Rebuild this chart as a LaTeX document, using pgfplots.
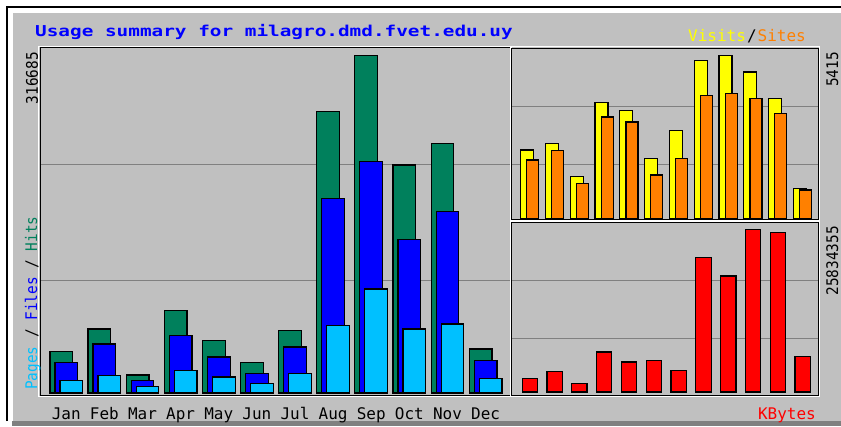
\documentclass[border=0pt]{standalone}
\usepackage{fontspec}
\setmainfont{DejaVu Sans Mono}
\usepackage{pgfplots}
\pgfplotsset{compat=1.18}
\definecolor{bg}{HTML}{C0C0C0}
\definecolor{hits}{HTML}{00805C}
\definecolor{files}{HTML}{0000FF}
\definecolor{pages}{HTML}{00C0FF}
\definecolor{visits}{HTML}{FFFF00}
\definecolor{sites}{HTML}{FF8000}
\definecolor{kbytes}{HTML}{FF0000}
\definecolor{gridc}{HTML}{808080}
\newcommand\sm{\fontsize{16}{18}\selectfont}
\pgfplotsset{webal/.style={scale only axis, anchor=south west,
  axis background/.style={fill=bg},
  axis line style={black, line width=1pt},
  major tick length=0pt,
  ymajorgrids, grid style={gridc, line width=1pt},
  scaled y ticks=false, scaled x ticks=false,
  yticklabels={}, xtick={0,...,11}, xticklabels={},
  clip=false,
  every axis plot/.append style={ybar, draw=black, line width=1.2pt}}}
\begin{document}
\begin{tikzpicture}
\useasboundingbox (0pt,0pt) rectangle (841pt,426pt);
\fill[white] (0pt,0pt) rectangle (841pt,426pt);
\fill[bg] (13pt,5pt) rectangle (841pt,413pt);
\fill[gridc] (12pt,0pt) rectangle (841pt,5pt);
\draw[black, line width=1.3pt] (7pt,5pt) -- (7pt,419pt) -- (841pt,419pt);

% main panel
\begin{axis}[webal, at={(40pt,31pt)}, width=470pt, height=347pt,
  xmin=-0.69, xmax=11.64, ymin=-1876, ymax=323520,
  ytick={105030,213810},
  xticklabels={Jan,Feb,Mar,Apr,May,Jun,Jul,Aug,Sep,Oct,Nov,Dec},
  xticklabel style={font=\sm, anchor=base, yshift=-24pt}]
\addplot[fill=hits, bar width=0.596, bar shift=-0.131] coordinates {
(0,38730) (1,60016) (2,16880) (3,77180) (4,49420) (5,28790)
(6,58420) (7,263800) (8,316685) (9,213810) (10,234160) (11,41260)};
\addplot[fill=files, bar width=0.596, bar shift=0] coordinates {
(0,28790) (1,45950) (2,11910) (3,54110) (4,33760) (5,18470)
(6,43140) (7,182580) (8,216910) (9,144130) (10,170390) (11,30660)};
\addplot[fill=pages, bar width=0.596, bar shift=0.131] coordinates {
(0,11910) (1,16600) (2,5910) (3,21290) (4,15000) (5,9100)
(6,18470) (7,63110) (8,97530) (9,60020) (10,64710) (11,13410)};
\draw[white, line width=1pt] ([xshift=-1.5pt,yshift=-1.5pt]rel axis cs:0,0) rectangle ([xshift=1.5pt,yshift=1.5pt]rel axis cs:1,1);
\end{axis}

% visits / sites
\begin{axis}[webal, at={(511.7pt,206.7pt)}, width=306.6pt, height=171pt,
  xmin=-0.73, xmax=11.63, ymin=-33, ymax=5661,
  ytick={1775,3717}]
\addplot[fill=visits, bar width=0.52, bar shift=-0.11] coordinates {
(0,2275) (1,2498) (2,1385) (3,3863) (4,3597) (5,1998)
(6,2931) (7,5248) (8,5415) (9,4872) (10,3983) (11,999)};
\addplot[fill=sites, bar width=0.48, bar shift=0.12] coordinates {
(0,1941) (1,2265) (2,1166) (3,3374) (4,3207) (5,1442)
(6,1998) (7,4083) (8,4150) (9,3983) (10,3483) (11,943)};
\draw[white, line width=1pt] ([xshift=-1.5pt,yshift=-1.5pt]rel axis cs:0,0) rectangle ([xshift=1.5pt,yshift=1.5pt]rel axis cs:1,1);
\end{axis}

% kbytes
\begin{axis}[webal, at={(511.7pt,31pt)}, width=306.6pt, height=172.3pt,
  xmin=-0.73, xmax=11.63, ymin=-476000, ymax=26882000,
  ytick={8463000,17625000}]
\addplot[fill=kbytes, bar width=0.617, bar shift=0] coordinates {
(0,2175000) (1,3224000) (2,1381000) (3,6352000) (4,4764000) (5,5033000)
(6,3446000) (7,21326000) (8,18420000) (9,25834355) (10,25295000) (11,5606000)};
\draw[white, line width=1pt] ([xshift=-1.5pt,yshift=-1.5pt]rel axis cs:0,0) rectangle ([xshift=1.5pt,yshift=1.5pt]rel axis cs:1,1);
\end{axis}

% texts
\node[anchor=base west, inner sep=0, text=files] at (35pt,389pt)
  {\scalebox{1.29}[1]{\fontsize{15}{18}\bfseries\selectfont Usage summary for milagro.dmd.fvet.edu.uy}};
\node[anchor=base west, inner sep=0] at (688pt,384pt)
  {\sm\textcolor{visits}{Visits}\kern1pt/\kern1pt\textcolor{sites}{Sites}};
\node[anchor=base east, inner sep=0, text=kbytes] at (816pt,7pt) {\sm KBytes};
\node[rotate=90, anchor=base east, inner sep=0] at (38pt,374pt) {\scalebox{0.9}[1]{\sm 316685}};
\node[rotate=90, anchor=base west, inner sep=0] at (37pt,36pt)
  {\scalebox{0.9}[1]{\sm\textcolor{pages}{Pages} / \textcolor{files}{Files} / \textcolor{hits}{Hits}}};
\node[rotate=90, anchor=base east, inner sep=0] at (838pt,374pt) {\scalebox{0.9}[1]{\sm 5415}};
\node[rotate=90, anchor=base east, inner sep=0] at (838pt,200pt) {\scalebox{0.9}[1]{\sm 25834355}};
\end{tikzpicture}
\end{document}
